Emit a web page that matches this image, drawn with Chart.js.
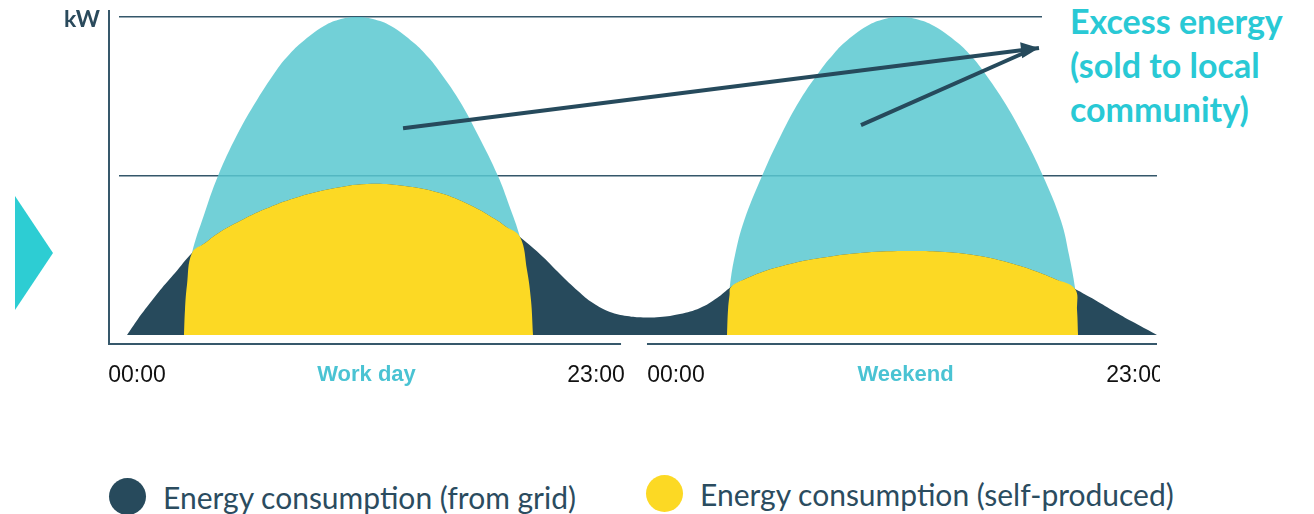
<!DOCTYPE html>
<html>
<head>
<meta charset="utf-8">
<script src="https://cdn.jsdelivr.net/npm/chart.js@4.4.1/dist/chart.umd.min.js"></script>
<style>
  html, body { margin: 0; padding: 0; background: #fff; }
  body { width: 1314px; height: 514px; position: relative; overflow: hidden; font-family: Lato, sans-serif; }
  #wrap { position: absolute; left: 0; top: 0; width: 1160px; height: 400px; }
  #marker { position: absolute; left: 15px; top: 196px; width: 0; height: 0;
            border-top: 57px solid transparent; border-bottom: 57px solid transparent;
            border-left: 38px solid #2DCDD3; }
  #excess { position: absolute; left: 1042px; top: -1px; width: 272px; padding-left: 28px;
            box-sizing: border-box; background: #fff; color: #29C9D5;
            font: bold 34px/44px Lato, sans-serif; white-space: nowrap; }
  #legend { position: absolute; left: 109px; top: 478px; display: flex; }
  .item { width: 537px; display: flex; align-items: center; }
  .dot { width: 37px; height: 37px; border-radius: 50%; flex: none; }
  .txt { margin-left: 17px; font: 30px Lato, sans-serif; color: #2B4C5F; white-space: nowrap; }
</style>
</head>
<body>
<div id="marker"></div>
<div id="wrap"><canvas id="c" width="1160" height="400"></canvas></div>
<div id="excess"></div>
<div id="legend"></div>
<script>
// Timeline in hours: work day 0–23, weekend 27 (00:00) to 50 (23:00)
const tickHours = [0, 11.5, 23, 27, 38.5, 50];
const tickLabels = ['00:00', 'Work day', '23:00', '00:00', 'Weekend', '23:00'];
const dayNames = ['Work day', 'Weekend'];

const seriesNames = [
  'Energy consumption (from grid)',
  'Energy consumption (self-produced)',
  'Excess energy (sold to local community)'
];
const excessLines = ['Excess energy', '(sold to local', 'community)'];

// Total household consumption (kW)
const gridHours = [-0.5, 0.05, 0.651, 1.253, 1.904, 2.756, 3.407, 4.158, 5.16, 6.413, 7.916, 9.669,
  11.523, 13.427, 15.18, 16.683, 17.936, 18.437, 19.188, 20.341, 21.192, 22.094, 22.846, 23.697,
  24.549, 25.351, 26.202, 27.204, 28.206, 29.058, 29.76, 30.461, 31.463, 32.715, 34.218, 36.222,
  38.427, 40.481, 42.234, 43.737, 44.99, 45.992, 46.994, 47.996, 48.998, 50.0, 51.1];
const gridKw = [0, 0.101, 0.201, 0.296, 0.39, 0.516, 0.579, 0.648, 0.717, 0.792, 0.862, 0.918,
  0.95, 0.937, 0.893, 0.818, 0.73, 0.686, 0.616, 0.491, 0.384, 0.277, 0.201, 0.145,
  0.119, 0.11, 0.113, 0.132, 0.17, 0.233, 0.302, 0.352, 0.403, 0.447, 0.484, 0.516,
  0.528, 0.522, 0.497, 0.453, 0.403, 0.352, 0.289, 0.22, 0.145, 0.075, 0];

// Consumption covered by own solar production (kW); null separates the two days
const selfHours = [2.355, 2.405, 2.505, 2.756, 3.407, 4.158, 5.16, 6.413, 7.916, 9.669, 11.523, 13.427,
  15.18, 16.683, 17.936, 18.437, 19.188, 19.539, 19.739, 19.84,
  24.7,
  29.559, 29.609, 29.684, 29.76, 30.461, 31.463, 32.715, 34.218, 36.222, 38.427, 40.481, 42.234,
  43.737, 44.99, 45.992, 46.994, 47.094, 47.144];
const selfKw = [0, 0.157, 0.314, 0.516, 0.579, 0.648, 0.717, 0.792, 0.862, 0.918, 0.95, 0.937,
  0.893, 0.818, 0.73, 0.686, 0.616, 0.409, 0.22, 0,
  null,
  0, 0.157, 0.25, 0.302, 0.352, 0.403, 0.447, 0.484, 0.516, 0.528, 0.522, 0.497,
  0.453, 0.403, 0.352, 0.289, 0.157, 0];

// Solar production (kW); what rises above consumption is the excess
const excessHours = [2.355, 2.405, 2.505, 2.756, 3.357, 4.058, 5.01, 6.012, 7.064, 7.515, 8.216, 9.369,
  10.22, 11.022, 11.824, 12.725, 13.878, 14.579, 15.03, 16.132, 17.084, 18.086, 18.637, 19.188,
  19.539, 19.739, 19.84,
  24.7,
  29.559, 29.609, 29.709, 29.96, 30.411, 31.313, 32.265, 33.216, 34.319, 34.77, 35.421, 36.573,
  37.45, 38.226, 39.028, 39.93, 41.132, 41.834, 42.285, 43.387, 44.389, 45.391, 46.293, 46.693,
  46.994, 47.094, 47.144];
const excessKw = [0, 0.157, 0.314, 0.516, 0.755, 1.0, 1.258, 1.478, 1.679, 1.748, 1.836, 1.943,
  1.987, 2.0, 1.987, 1.943, 1.836, 1.748, 1.679, 1.478, 1.258, 1.0, 0.818, 0.616,
  0.409, 0.22, 0,
  null,
  0, 0.157, 0.314, 0.503, 0.717, 1.0, 1.258, 1.478, 1.679, 1.748, 1.836, 1.943,
  1.987, 2.0, 1.987, 1.943, 1.836, 1.748, 1.679, 1.478, 1.258, 1.0, 0.717, 0.503,
  0.296, 0.157, 0];

const toPoints = (xs, ys) => xs.map((x, i) => ({ x, y: ys[i] }));

const DARK = '#274A5C';
const YELLOW = '#FCD924';
const CYAN = 'rgba(89, 200, 208, 0.85)';

// Axis frame: y line left of the plot, bottom line broken between the two days, unit label
const frame = {
  id: 'frame',
  afterDraw(chart, args, opts) {
    const { ctx, chartArea: a, scales: { x } } = chart;
    const ax = a.left - 10, by = a.bottom + 9;
    ctx.save();
    ctx.strokeStyle = '#36586B';
    ctx.lineWidth = 2;
    ctx.beginPath();
    ctx.moveTo(ax, a.top - 7);
    ctx.lineTo(ax, by);
    ctx.lineTo(x.getPixelForValue(opts.breakFrom), by);
    ctx.moveTo(x.getPixelForValue(opts.breakTo), by);
    ctx.lineTo(a.right, by);
    ctx.stroke();
    ctx.fillStyle = '#2A4A5C';
    ctx.font = 'bold 23px Lato, sans-serif';
    ctx.textAlign = 'right';
    ctx.textBaseline = 'alphabetic';
    ctx.fillText(opts.unit, ax - 9, a.top + 10);
    ctx.restore();
  }
};

// Arrows pointing from both excess areas to the caption
const arrows = {
  id: 'arrows',
  afterDatasetsDraw(chart, args, opts) {
    const { ctx, scales: { x, y } } = chart;
    const P = p => [x.getPixelForValue(p[0]), y.getPixelForValue(p[1])];
    const tip = P(opts.tip);
    ctx.save();
    ctx.strokeStyle = opts.color;
    ctx.fillStyle = opts.color;
    ctx.lineWidth = 4;
    opts.lines.forEach(l => {
      const s = P(l[0]), e = P(l[1]);
      ctx.beginPath();
      ctx.moveTo(s[0], s[1]);
      ctx.lineTo(e[0], e[1]);
      ctx.stroke();
    });
    // head aligned with the long arrow
    const s0 = P(opts.lines[0][0]);
    const ang = Math.atan2(tip[1] - s0[1], tip[0] - s0[0]);
    const len = 18, half = 8;
    const bx = tip[0] - len * Math.cos(ang), byy = tip[1] - len * Math.sin(ang);
    ctx.beginPath();
    ctx.moveTo(tip[0], tip[1]);
    ctx.lineTo(bx + half * Math.sin(ang), byy - half * Math.cos(ang));
    ctx.lineTo(bx - half * Math.sin(ang), byy + half * Math.cos(ang));
    ctx.closePath();
    ctx.fill();
    ctx.restore();
  }
};

const isDay = i => dayNames.includes(tickLabels[i]);

const chart = new Chart(document.getElementById('c'), {
  type: 'line',
  data: {
    datasets: [
      { label: seriesNames[0], data: toPoints(gridHours, gridKw), backgroundColor: DARK, fill: 'origin', order: 1 },
      { label: seriesNames[1], data: toPoints(selfHours, selfKw), backgroundColor: YELLOW, fill: 'origin', order: 0 },
      { label: seriesNames[2], data: toPoints(excessHours, excessKw), backgroundColor: CYAN, fill: 'origin', order: 2 }
    ]
  },
  options: {
    responsive: false,
    animation: false,
    events: [],
    devicePixelRatio: 1,
    spanGaps: false,
    layout: { padding: { left: 119, right: 3, top: 17, bottom: 0 }, autoPadding: false },
    elements: {
      line: { borderWidth: 0, tension: 0.4 },
      point: { radius: 0 }
    },
    scales: {
      x: {
        type: 'linear', min: -0.9, max: 51.1,
        grid: { display: false, drawTicks: false },
        border: { display: false },
        afterBuildTicks: s => { s.ticks = tickHours.map(v => ({ value: v })); },
        afterFit: s => { s.height = 65; s.paddingLeft = 0; s.paddingRight = 0; },
        ticks: {
          autoSkip: false, maxRotation: 0, minRotation: 0, padding: 27,
          callback: (v, i) => tickLabels[i],
          color: c => isDay(c.index) ? '#4AC3D3' : '#111111',
          font: c => isDay(c.index)
            ? { family: '"Liberation Sans", Arial, sans-serif', size: 22, weight: 'bold' }
            : { family: '"Liberation Sans", Arial, sans-serif', size: 23, weight: 'normal' }
        }
      },
      y: {
        min: 0, max: 2,
        ticks: { display: false, stepSize: 1 },
        border: { display: false },
        grid: {
          drawTicks: false, lineWidth: 1.5,
          color: c => (c.tick && c.tick.value > 0) ? '#34576A' : 'rgba(0,0,0,0)'
        },
        afterFit: s => { s.width = 0; s.paddingTop = 0; s.paddingBottom = 0; }
      }
    },
    plugins: {
      legend: { display: false },
      tooltip: { enabled: false },
      frame: { breakFrom: 24.25, breakTo: 25.55, unit: 'kW' },
      arrows: {
        color: '#264A5C',
        tip: [45.19, 1.805],
        lines: [[[13.33, 1.30], [45.19, 1.805]], [[36.27, 1.32], [44.54, 1.78]]]
      }
    }
  },
  plugins: [frame, arrows]
});

// Caption for the excess area
const excessBox = document.getElementById('excess');
excessLines.forEach(t => {
  const d = document.createElement('div');
  d.textContent = t;
  excessBox.appendChild(d);
});

// Legend built from the consumption datasets
const legendBox = document.getElementById('legend');
Chart.defaults.plugins.legend.labels.generateLabels(chart)
  .filter(it => it.datasetIndex !== 2)
  .sort((a, b) => a.datasetIndex - b.datasetIndex)
  .forEach((it, k) => {
    const item = document.createElement('div');
    item.className = 'item';
    if (k === 1) item.style.marginTop = '-6px';
    const dot = document.createElement('span');
    dot.className = 'dot';
    dot.style.background = it.fillStyle;
    const txt = document.createElement('span');
    txt.className = 'txt';
    txt.textContent = it.text;
    item.appendChild(dot);
    item.appendChild(txt);
    legendBox.appendChild(item);
  });
</script>
</body>
</html>
